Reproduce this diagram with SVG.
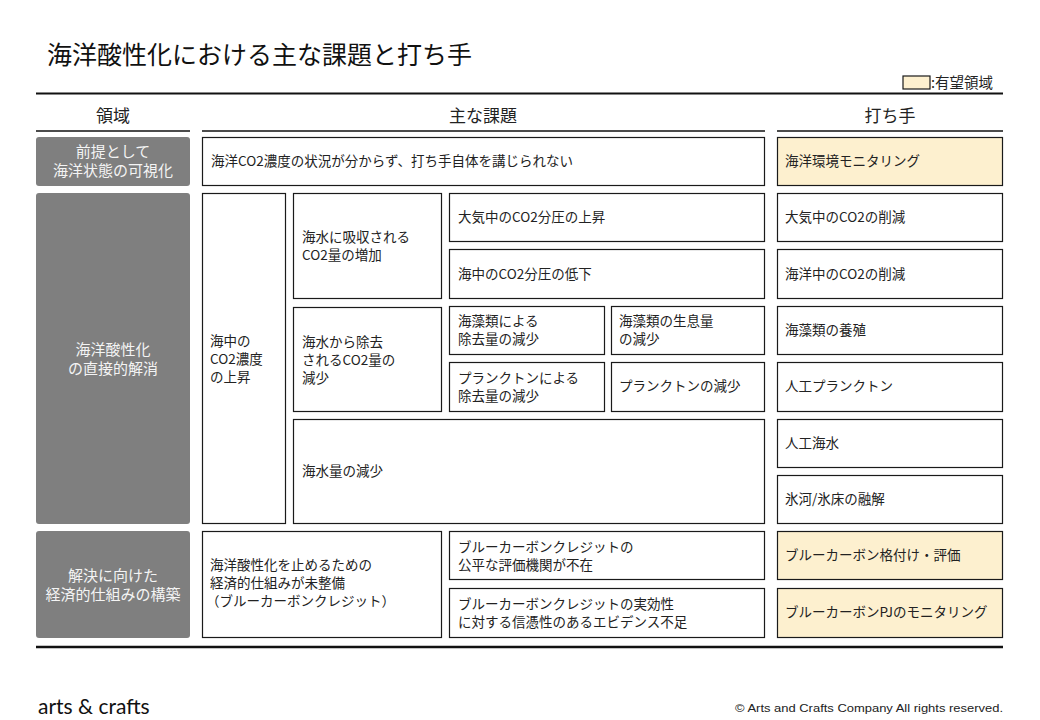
<svg xmlns="http://www.w3.org/2000/svg" width="1040" height="720" viewBox="0 0 1040 720">
<style>
text{font-family:"Noto Sans CJK JP","Noto Sans",sans-serif;}
.box{fill:#fff;stroke:#1a1a1a;stroke-width:1.2;}
.good{fill:#fdf0cf;stroke:#1a1a1a;stroke-width:1.2;}
.area{fill:#7f7f7f;}
.t{font-size:13.5px;fill:#222;}
.w{font-size:15px;fill:#f4f4f4;text-anchor:middle;}
.h{font-size:17px;fill:#222;text-anchor:middle;}
.rule{stroke:#111;}
</style>
<rect width="1040" height="720" fill="#fff"/>
<text x="47" y="64" font-size="25" fill="#111">海洋酸性化における主な課題と打ち手</text>
<g id="legend">
<rect x="903" y="76" width="27" height="13" class="good"/>
<text x="931" y="88" font-size="14.5" fill="#222">:有望領域</text>
</g>
<g id="rules">
<line x1="36" y1="93.5" x2="1003" y2="93.5" class="rule" stroke-width="2"/>
<line x1="36" y1="131" x2="190" y2="131" class="rule" stroke-width="1.3"/>
<line x1="202" y1="131" x2="765" y2="131" class="rule" stroke-width="1.3"/>
<line x1="777" y1="131" x2="1003" y2="131" class="rule" stroke-width="1.3"/>
<line x1="36" y1="647" x2="1003" y2="647" class="rule" stroke-width="2.6"/>
</g>
<g id="headers">
<text x="113" y="122" class="h">領域</text>
<text x="483" y="122" class="h">主な課題</text>
<text x="890" y="122" class="h">打ち手</text>
</g>
<g id="area1"><rect x="36" y="137" width="154" height="49" rx="3" class="area"/><text x="113" y="157" class="w">前提として</text><text x="113" y="176" class="w">海洋状態の可視化</text></g>
<g id="area2"><rect x="36" y="193" width="154" height="331" rx="3" class="area"/><text x="113" y="355" class="w">海洋酸性化</text><text x="113" y="374" class="w">の直接的解消</text></g>
<g id="area3"><rect x="36" y="531" width="154" height="107" rx="3" class="area"/><text x="113" y="581" class="w">解決に向けた</text><text x="113" y="600" class="w">経済的仕組みの構築</text></g>

<g id="c-visibility"><rect x="202.5" y="137.5" width="562" height="48" class="box"/><text x="211" y="166" class="t">海洋CO2濃度の状況が分からず、打ち手自体を講じられない</text></g>
<g id="c-co2rise"><rect x="202.5" y="193.5" width="83" height="330" class="box"/><text class="t"><tspan x="210" y="346">海中の</tspan><tspan x="210" y="364">CO2濃度</tspan><tspan x="210" y="382">の上昇</tspan></text></g>
<g id="c-absorb"><rect x="293.5" y="193.5" width="148" height="105" class="box"/><text class="t"><tspan x="302" y="242">海水に吸収される</tspan><tspan x="302" y="260">CO2量の増加</tspan></text></g>
<g id="c-remove"><rect x="293.5" y="307.5" width="148" height="104" class="box"/><text class="t"><tspan x="302" y="347">海水から除去</tspan><tspan x="302" y="365">されるCO2量の</tspan><tspan x="302" y="383">減少</tspan></text></g>
<g id="c-atm"><rect x="449.5" y="193.5" width="315" height="48" class="box"/><text x="458" y="222" class="t">大気中のCO2分圧の上昇</text></g>
<g id="c-sea"><rect x="449.5" y="249.5" width="315" height="49" class="box"/><text x="458" y="279" class="t">海中のCO2分圧の低下</text></g>
<g id="c-seaweed"><rect x="449.5" y="306.5" width="155" height="48" class="box"/><text class="t"><tspan x="458" y="326">海藻類による</tspan><tspan x="458" y="344">除去量の減少</tspan></text></g>
<g id="c-seaweed2"><rect x="611.5" y="306.5" width="153" height="48" class="box"/><text class="t"><tspan x="619" y="326">海藻類の生息量</tspan><tspan x="619" y="344">の減少</tspan></text></g>
<g id="c-plankton"><rect x="449.5" y="362.5" width="155" height="49" class="box"/><text class="t"><tspan x="458" y="383">プランクトンによる</tspan><tspan x="458" y="401">除去量の減少</tspan></text></g>
<g id="c-plankton2"><rect x="611.5" y="362.5" width="153" height="49" class="box"/><text x="619" y="391" class="t">プランクトンの減少</text></g>
<g id="c-water"><rect x="293.5" y="419.5" width="471" height="104" class="box"/><text x="302" y="476" class="t">海水量の減少</text></g>
<g id="c-econ"><rect x="202.5" y="531.5" width="239" height="106" class="box"/><text class="t"><tspan x="210" y="570">海洋酸性化を止めるための</tspan><tspan x="210" y="588">経済的仕組みが未整備</tspan><tspan x="206" y="606">（ブルーカーボンクレジット）</tspan></text></g>
<g id="c-eval"><rect x="449.5" y="531.5" width="315" height="48" class="box"/><text class="t"><tspan x="458" y="552">ブルーカーボンクレジットの</tspan><tspan x="458" y="570">公平な評価機関が不在</tspan></text></g>
<g id="c-evidence"><rect x="449.5" y="588.5" width="315" height="49" class="box"/><text class="t"><tspan x="458" y="609">ブルーカーボンクレジットの実効性</tspan><tspan x="458" y="627">に対する信憑性のあるエビデンス不足</tspan></text></g>

<g id="m-monitor"><rect x="777.5" y="137.5" width="225" height="48" class="good"/><text x="785" y="166" class="t">海洋環境モニタリング</text></g>
<g id="m-atm"><rect x="777.5" y="193.5" width="225" height="48" class="box"/><text x="785" y="222" class="t">大気中のCO2の削減</text></g>
<g id="m-sea"><rect x="777.5" y="249.5" width="225" height="49" class="box"/><text x="785" y="279" class="t">海洋中のCO2の削減</text></g>
<g id="m-seaweed"><rect x="777.5" y="306.5" width="225" height="48" class="box"/><text x="785" y="335" class="t">海藻類の養殖</text></g>
<g id="m-plankton"><rect x="777.5" y="362.5" width="225" height="49" class="box"/><text x="785" y="391" class="t">人工プランクトン</text></g>
<g id="m-water"><rect x="777.5" y="419.5" width="225" height="48" class="box"/><text x="785" y="448" class="t">人工海水</text></g>
<g id="m-ice"><rect x="777.5" y="475.5" width="225" height="48" class="box"/><text x="785" y="504" class="t">氷河/氷床の融解</text></g>
<g id="m-rating"><rect x="777.5" y="531.5" width="225" height="48" class="good"/><text x="785" y="560" class="t">ブルーカーボン格付け・評価</text></g>
<g id="m-pj"><rect x="777.5" y="588.5" width="225" height="49" class="good"/><text x="785" y="617" class="t">ブルーカーボンPJのモニタリング</text></g>
<g id="connectors"></g>
<text x="38" y="714" font-size="21" fill="#111" style="font-family:Lato,'Liberation Sans',sans-serif">arts &amp; crafts</text>
<text x="735" y="712" font-size="11" fill="#222" textLength="268" lengthAdjust="spacingAndGlyphs" style="font-family:'Liberation Sans',sans-serif">© Arts and Crafts Company All rights reserved.</text>
</svg>
